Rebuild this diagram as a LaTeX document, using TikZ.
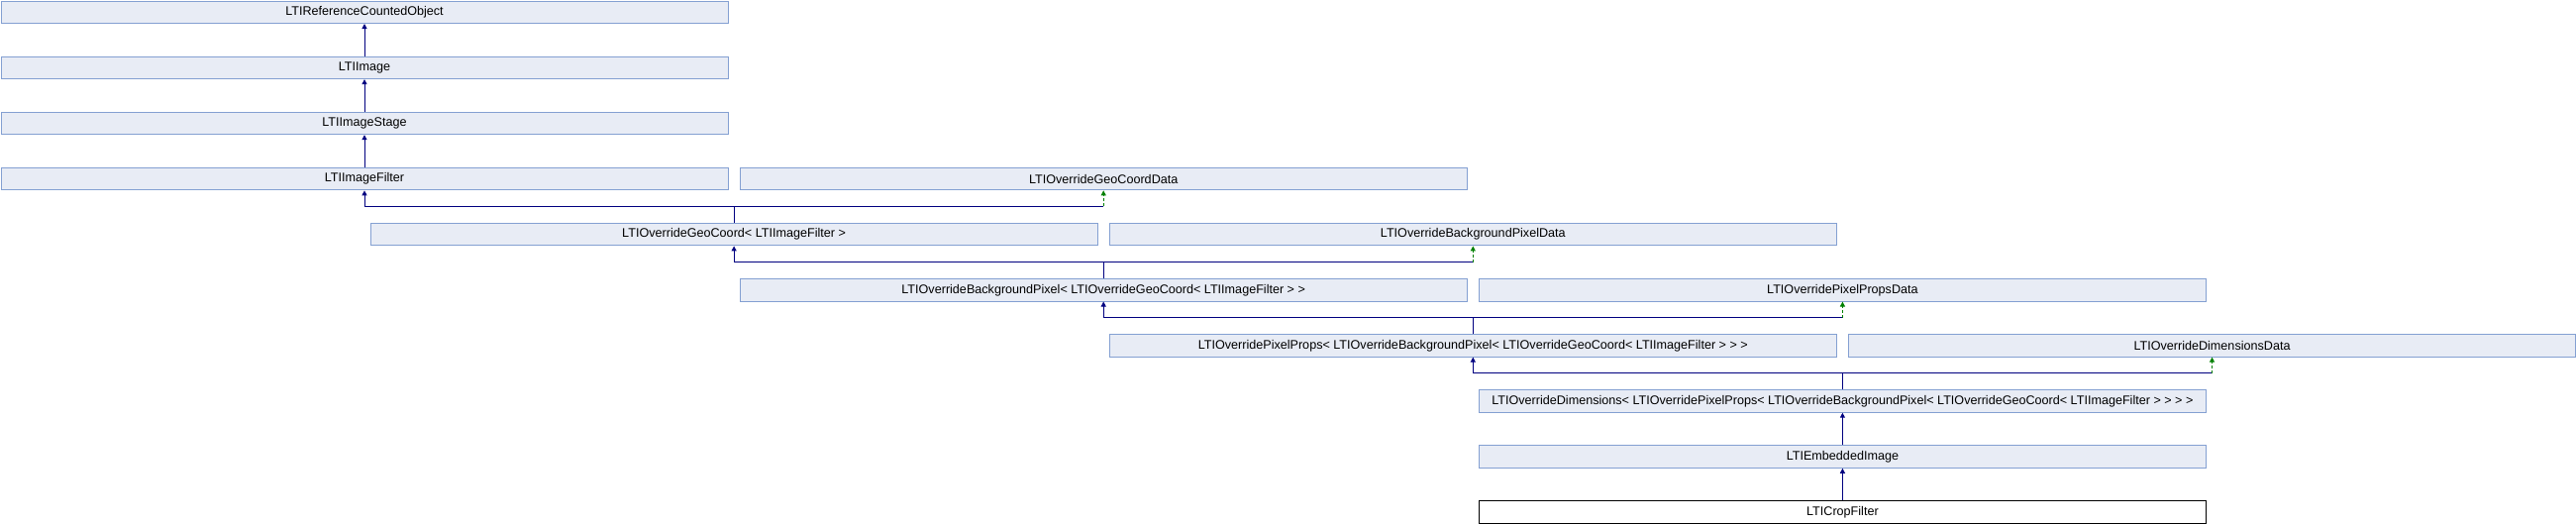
\documentclass[tikz,border=0pt]{standalone}
\usepackage{fontspec}
\setmainfont{Liberation Sans}
\usepackage{xcolor}
\definecolor{boxfill}{HTML}{E8ECF5}
\definecolor{boxline}{HTML}{84A0D2}
\definecolor{publine}{HTML}{000080}
\definecolor{protline}{HTML}{008000}
\usepackage{tikz}
\usetikzlibrary{arrows.meta,calc}

\tikzset{
  cls/.style={draw=boxline,fill=boxfill,line width=1pt,anchor=north west,inner sep=0pt,
    minimum width=734pt,minimum height=22.5pt,font=\fontsize{12.6}{14}\selectfont},
  pub/.style={draw=publine,line width=1pt,-{Triangle[length=5pt,width=5pt]}},
  prot/.style={draw=protline,line width=1pt,dash pattern=on 3pt off 2pt,-{Triangle[length=5pt,width=5pt]}}
}

\begin{document}
\begin{tikzpicture}[x=1pt,y=1pt]
  \useasboundingbox (0,0) rectangle (2601,-528);
  % Class boxes
  \foreach \name/\col/\row/\label in {
      refobj/0/0/LTIReferenceCountedObject,
      image/0/1/LTIImage,
      stage/0/2/LTIImageStage,
      filter/0/3/LTIImageFilter,
      geodata/2/3/LTIOverrideGeoCoordData,
      geo/1/4/LTIOverrideGeoCoord< LTIImageFilter >,
      bgdata/3/4/LTIOverrideBackgroundPixelData,
      bg/2/5/LTIOverrideBackgroundPixel< LTIOverrideGeoCoord< LTIImageFilter > >,
      propsdata/4/5/LTIOverridePixelPropsData,
      props/3/6/LTIOverridePixelProps< LTIOverrideBackgroundPixel< LTIOverrideGeoCoord< LTIImageFilter > > >,
      dimdata/5/6/LTIOverrideDimensionsData,
      dims/4/7/LTIOverrideDimensions< LTIOverridePixelProps< LTIOverrideBackgroundPixel< LTIOverrideGeoCoord< LTIImageFilter > > > >,
      embedded/4/8/LTIEmbeddedImage,
      crop/4/9/LTICropFilter} {
    \ifnum\row=9
      \node[cls,draw=black,fill=white] (\name) at (0.5+\col*373.1,-0.5-\row*56.1) {\label};
    \else
      \node[cls] (\name) at (0.5+\col*373.1,-0.5-\row*56.1) {\label};
    \fi
  }
  % Single parent
  \foreach \child/\parent in {image/refobj, stage/image, filter/stage, embedded/dims, crop/embedded}
    \draw[pub] (\child.north) -- (\parent.south);
  % Two parents: public and protected
  \foreach \child/\pa/\pb in {geo/filter/geodata, bg/geo/bgdata, props/bg/propsdata, dims/props/dimdata} {
    \coordinate (bar) at ($(\child.north)+(0,16.5)$);
    \draw[publine,line width=1pt] (\child.north) -- (bar);
    \draw[publine,line width=1pt] (\pa.south |- bar) -- (\pb.south |- bar);
    \draw[pub] (\pa.south |- bar) -- (\pa.south);
    \draw[prot] (\pb.south |- bar) -- (\pb.south);
  }
\end{tikzpicture}
\end{document}
